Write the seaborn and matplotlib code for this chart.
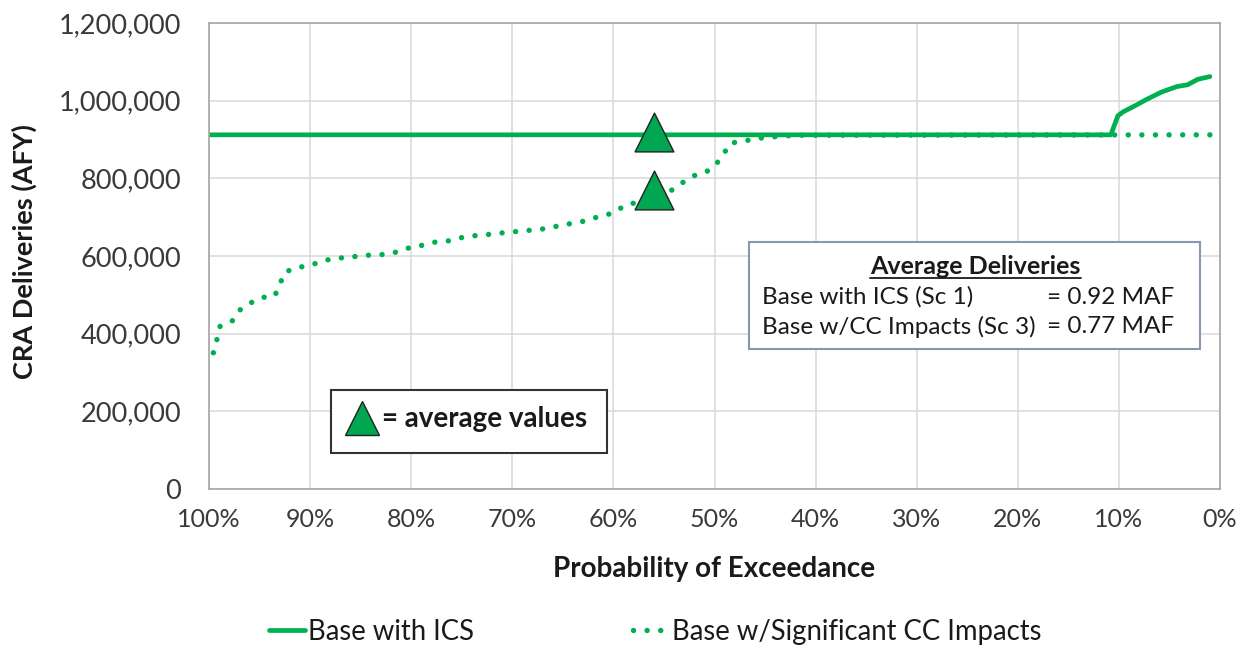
import pandas as pd
import matplotlib
matplotlib.use("Agg")
import matplotlib.pyplot as plt
import matplotlib.ticker as mtick
from matplotlib.lines import Line2D
from matplotlib.patches import Rectangle
import seaborn as sns

# probability of exceedance (%) and CRA deliveries (AFY)
ics_label = 'Base with ICS'
ics_pct = [100, 10.8, 10.1, 9.6, 8.4, 7.2, 5.8, 4.3, 3.2, 2.2, 1.0]
ics_afy = [912000, 912000, 961000, 971000, 987000, 1004000, 1022000,
           1036000, 1041000, 1055000, 1062000]

cc_label = 'Base w/Significant CC Impacts'
cc_pct = [100, 99.5, 99.2, 98.9, 97.7, 97.0, 95.9, 94.8, 93.5, 93.0,
          92.5, 91.4, 90.1, 88.8, 87.6, 86.4, 85.1, 83.8, 82.6, 81.3,
          80.1, 78.8, 77.6, 76.3, 75.1, 73.8, 72.5, 71.2, 70.0, 68.8,
          67.4, 66.2, 64.9, 63.7, 62.4, 61.2, 60.0, 58.9, 57.7, 54.2,
          53.1, 52.0, 50.9, 49.9, 49.1, 48.4, 47.2, 46.0, 44.7, 43.5,
          42.0, 1.0]
cc_afy = [318000, 356000, 387000, 419000, 433000, 460000, 479000, 493000, 497000, 527000,
          558000, 570000, 575000, 587000, 594000, 596000, 600000, 603000, 604000, 611000,
          622000, 628000, 636000, 639000, 647000, 652000, 655000, 659000, 662000, 665000,
          668000, 673000, 681000, 685000, 693000, 704000, 710000, 730000, 738000, 770000,
          790000, 807000, 815000, 834000, 863000, 891000, 895000, 902000, 906000, 908000,
          911000, 912000]

# average values (triangles)
avg_pct = [56, 56]
avg_afy = [920000, 770000]

summary_rows = ['Base with ICS (Sc 1)', 'Base w/CC Impacts (Sc 3)']
summary_vals = ['= 0.92 MAF', '= 0.77 MAF']

green = '#00B050'
tri_green = '#00A651'

df = pd.concat([
    pd.DataFrame({'pct': ics_pct, 'afy': ics_afy, 'series': ics_label}),
    pd.DataFrame({'pct': cc_pct, 'afy': cc_afy, 'series': cc_label}),
])

sns.set_theme(style="whitegrid")
plt.rcParams['font.family'] = ['Lato', 'DejaVu Sans']

fig = plt.figure(figsize=(12.48, 6.48), dpi=100)
ax = fig.add_axes([209/1248, 1 - 489/648, 1011/1248, 466/648])

dot_dash = (0.01, 2.5)
sns.lineplot(data=df, x='pct', y='afy', hue='series', style='series',
             palette=[green, green], dashes={ics_label: '', cc_label: dot_dash},
             linewidth=3.4, dash_capstyle='round', legend=False, ax=ax)
# dotted series drawn a bit heavier so the dots read like the original
ax.lines[1].set_linewidth(3.9)

sns.scatterplot(x=avg_pct, y=avg_afy, marker='^', s=780, color=tri_green,
                edgecolor='#222222', linewidth=1.0, zorder=5, ax=ax)

ax.set_xlim(100, 0)
ax.set_ylim(0, 1200000)
ax.set_xticks(range(0, 101, 10))
ax.set_yticks(range(0, 1200001, 200000))
ax.xaxis.set_major_formatter(mtick.FuncFormatter(lambda v, p: f'{v:.0f}%'))
ax.yaxis.set_major_formatter(mtick.FuncFormatter(lambda v, p: f'{v:,.0f}'))
ax.tick_params(axis='both', length=0, colors='#3a3a3a')
ax.tick_params(axis='y', pad=20, labelsize=19.5)
ax.tick_params(axis='x', pad=14, labelsize=18)
ax.grid(color='#D9D9D9', linewidth=1.1)
for sp in ax.spines.values():
    sp.set_color('#A6A6A6')
    sp.set_linewidth(1.2)

ax.set_xlabel('Probability of Exceedance', fontsize=20, fontweight='bold', color='#1a1a1a')
ax.set_ylabel('CRA Deliveries (AFY)', fontsize=19.5, fontweight='bold', color='#1a1a1a')
ax.xaxis.set_label_coords(0.5, -0.143)
ax.yaxis.set_label_coords(-0.170, 0.509)

# "= average values" box
ax.add_patch(Rectangle((0.1207, 0.0773), 0.273, 0.135, transform=ax.transAxes,
                       facecolor='white', edgecolor='#333333', linewidth=1.5, zorder=6))
ax.plot([0.1513], [0.152], marker='^', markersize=24, color=tri_green,
        markeredgecolor='#222222', markeredgewidth=1.0, transform=ax.transAxes,
        zorder=7, clip_on=False)
ax.text(0.171, 0.150, '= average values', transform=ax.transAxes, fontsize=20,
        fontweight='bold', color='#1a1a1a', va='center', ha='left', zorder=7)

# Average Deliveries box
ax.add_patch(Rectangle((0.534, 0.300), 0.446, 0.230, transform=ax.transAxes,
                       facecolor='white', edgecolor='#8797AE', linewidth=1.5, zorder=6))
title = ax.text(0.758, 0.462, 'Average Deliveries', transform=ax.transAxes,
                fontsize=18, fontweight='bold', color='#1a1a1a',
                ha='center', va='baseline', zorder=7)
for i, (row, val) in enumerate(zip(summary_rows, summary_vals)):
    yy = 0.412 - i * 0.064
    ax.text(0.547, yy, row, transform=ax.transAxes, fontsize=17.5, color='#1a1a1a',
            ha='left', va='center', zorder=7)
    ax.text(0.829, yy, val, transform=ax.transAxes, fontsize=17.5, color='#1a1a1a',
            ha='left', va='center', zorder=7)

fig.canvas.draw()
bb = title.get_window_extent().transformed(ax.transAxes.inverted())
ax.plot([bb.x0, bb.x1], [0.462 - 0.009] * 2, color='#1a1a1a', linewidth=1.3,
        transform=ax.transAxes, zorder=7)

handles = [
    Line2D([], [], color=green, linewidth=3.4),
    Line2D([], [], color=green, linewidth=3.9, dashes=dot_dash, dash_capstyle='round'),
]
fig.legend(handles, [ics_label, cc_label], loc='center', bbox_to_anchor=(0.525, 0.025),
           ncol=2, frameon=False, fontsize=19.8, handlelength=1.3, handletextpad=0.1,
           columnspacing=5.8, labelcolor='#1a1a1a')

fig.savefig('out.png', dpi=100)
